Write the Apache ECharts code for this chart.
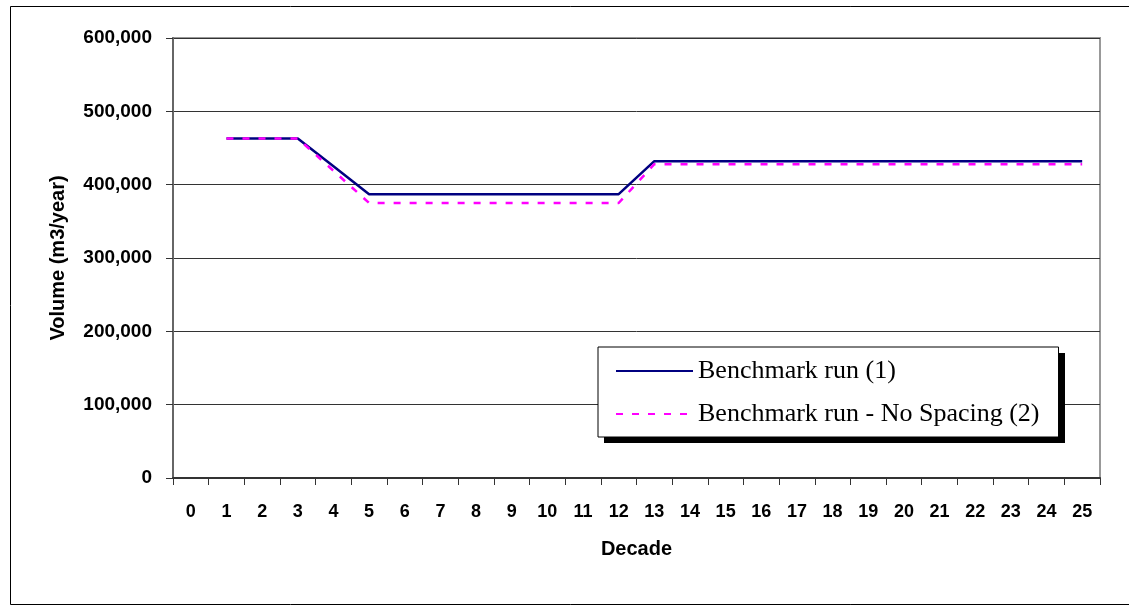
<!DOCTYPE html>
<html>
<head>
<meta charset="utf-8">
<script src="https://cdn.jsdelivr.net/npm/echarts@6/dist/echarts.min.js"></script>
<style>
html,body{margin:0;padding:0;background:#fff;}
#chart{width:1129px;height:605px;}
</style>
</head>
<body>
<div id="chart"></div>
<script>
// Data
var decades = ['0','1','2','3','4','5','6','7','8','9','10','11','12','13','14','15','16','17','18','19','20','21','22','23','24','25'];
var benchmark = [null,463000,463000,463000,425000,387000,387000,387000,387000,387000,387000,387000,387000,432000,432000,432000,432000,432000,432000,432000,432000,432000,432000,432000,432000,432000];
var noSpacing = [null,463000,463000,463000,419000,375000,375000,375000,375000,375000,375000,375000,375000,428000,428000,428000,428000,428000,428000,428000,428000,428000,428000,428000,428000,428000];
var seriesNames = ['Benchmark run (1)','Benchmark run - No Spacing (2)'];
var yAxisTitle = 'Volume (m3/year)';
var xAxisTitle = 'Decade';

var chart = echarts.init(document.getElementById('chart'), null, {renderer:'canvas'});
var sans = "'Liberation Sans', Arial, sans-serif";
var serif = "'Liberation Serif', 'Times New Roman', serif";
chart.setOption({
  animation:false,
  backgroundColor:'#fff',
  graphic:[{
    type:'rect', left:8, top:4, z:-10, silent:true,
    shape:{x:0,y:0,width:1130,height:598},
    style:{fill:null, stroke:'#000', lineWidth:1}
  },{
    type:'rect', left:604, top:353, z:3, silent:true,
    shape:{x:0,y:0,width:461,height:90},
    style:{fill:'#000', stroke:null}
  }],
  grid:{left:173, top:38, width:927, height:440, show:true, borderColor:'#999', borderWidth:2, backgroundColor:'#fff'},
  legend:{
    left:598, top:347, orient:'vertical', z:4,
    padding:[11,19,10,17],
    itemWidth:77, itemHeight:14, itemGap:17,
    backgroundColor:'#fff', borderColor:'#000', borderWidth:1,
    itemStyle:{opacity:0},
    textStyle:{fontFamily:serif, fontSize:26, color:'#000', lineHeight:26},
    data:seriesNames
  },
  xAxis:{
    type:'category', data:decades, boundaryGap:true,
    name:xAxisTitle, nameLocation:'middle', nameGap:61,
    nameTextStyle:{fontFamily:sans, fontSize:20, fontWeight:'bold', color:'#000'},
    axisLine:{lineStyle:{color:'#333', width:2}},
    axisTick:{show:true, interval:0, length:7, lineStyle:{color:'#333', width:1}},
    axisLabel:{interval:0, margin:25, fontFamily:sans, fontSize:18, fontWeight:'bold', color:'#000'},
    splitLine:{show:false}
  },
  yAxis:{
    type:'value', min:0, max:600000, interval:100000,
    name:yAxisTitle, nameLocation:'middle', nameGap:105, nameRotate:90,
    nameTextStyle:{fontFamily:sans, fontSize:20, fontWeight:'bold', color:'#000'},
    axisLine:{show:true, lineStyle:{color:'#666', width:2}},
    axisTick:{show:true, length:7, lineStyle:{color:'#333', width:1}},
    axisLabel:{margin:21, fontFamily:sans, fontSize:19, fontWeight:'bold', color:'#000',
      formatter:function(v){return v.toLocaleString('en-US');}},
    splitLine:{show:true, lineStyle:{color:'#333', width:1}}
  },
  series:[
    {name:seriesNames[0], type:'line', data:benchmark, symbol:'none', connectNulls:false,
     lineStyle:{color:'#000080', width:2.5}, itemStyle:{color:'#000080'}},
    {name:seriesNames[1], type:'line', data:noSpacing, symbol:'none', connectNulls:false,
     lineStyle:{color:'#FF00FF', width:2.5, type:[7,9]}, itemStyle:{color:'#FF00FF'}}
  ]
});
</script>
</body>
</html>
